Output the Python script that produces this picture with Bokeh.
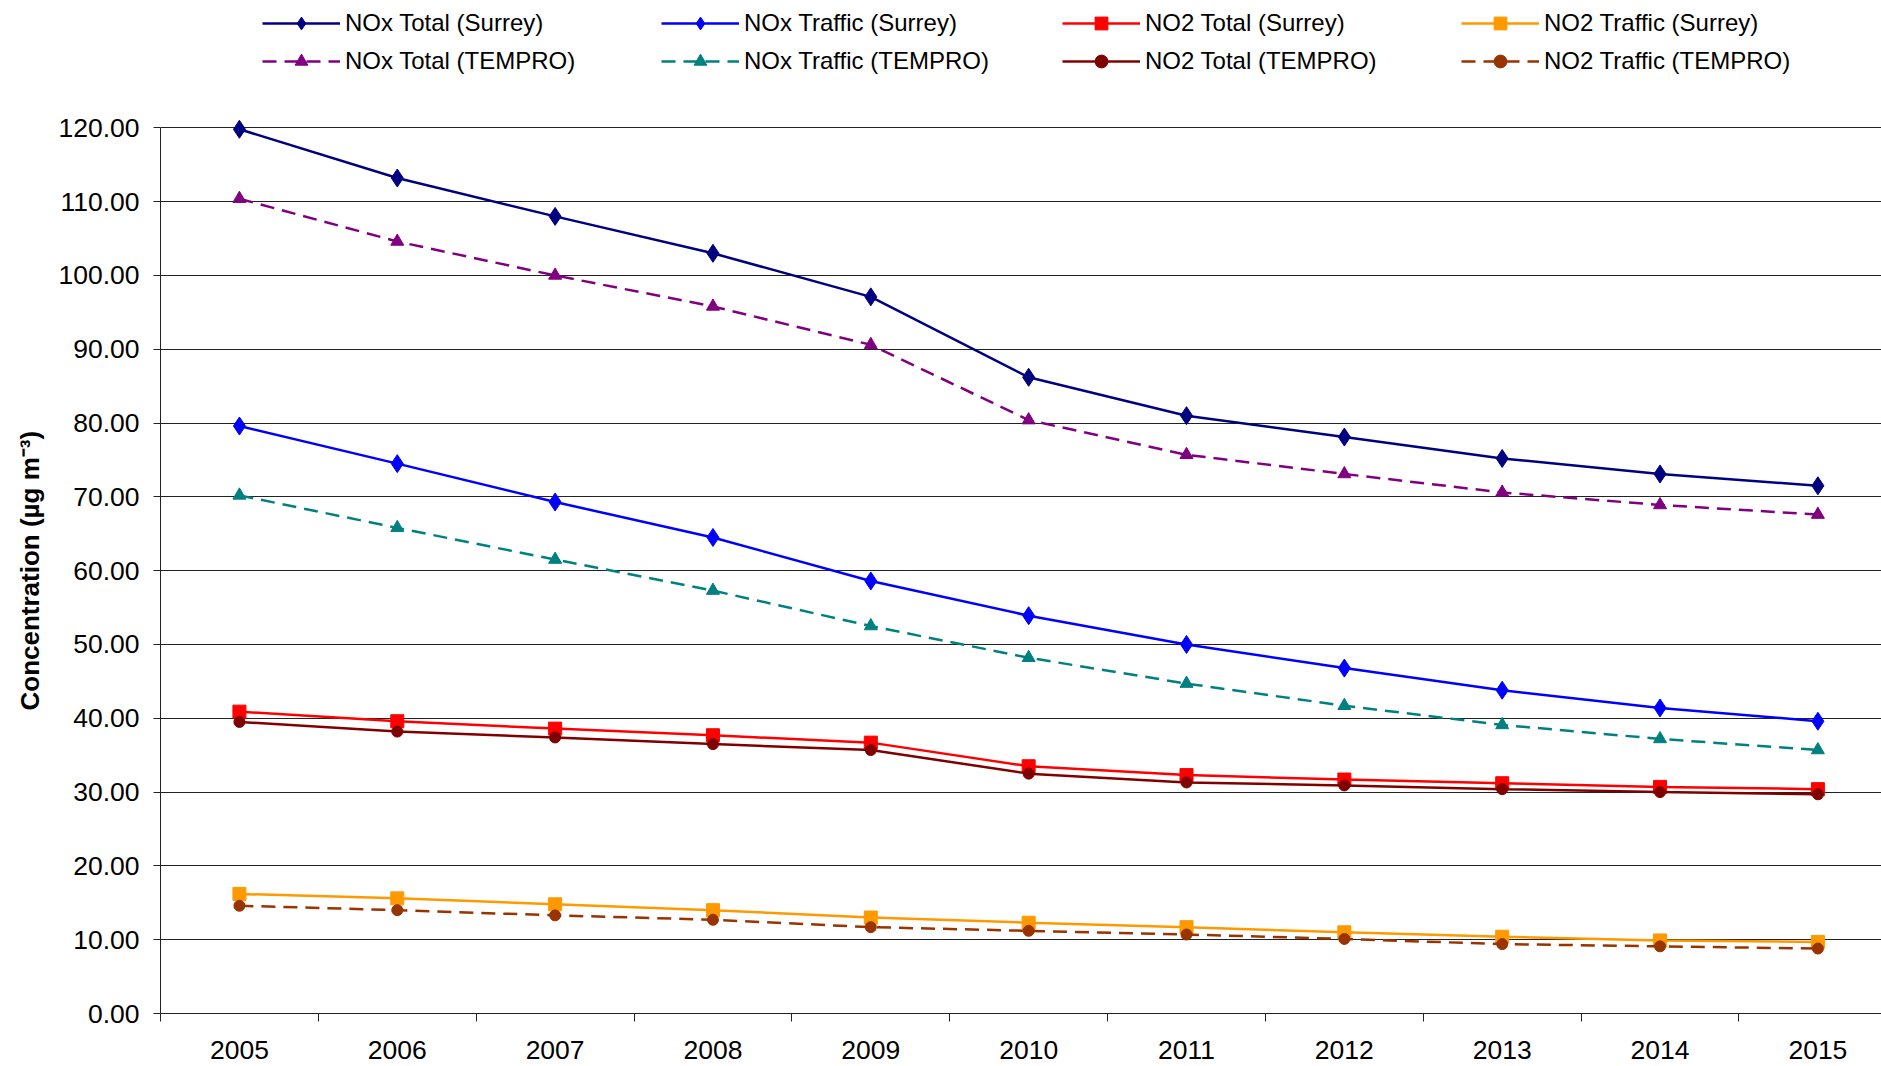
from bokeh.plotting import figure
from bokeh.models import Range1d, FixedTicker, Legend, LegendItem, Title
from bokeh.embed import file_html
from bokeh.resources import INLINE

years = [2005, 2006, 2007, 2008, 2009, 2010, 2011, 2012, 2013, 2014, 2015]
year_labels = [str(y) for y in years]

nox_total_surrey = [119.8, 113.2, 108.0, 103.0, 97.1, 86.2, 81.0, 78.1, 75.2, 73.1, 71.5]
nox_traffic_surrey = [79.6, 74.5, 69.3, 64.5, 58.6, 53.9, 50.0, 46.8, 43.8, 41.4, 39.6]
no2_total_surrey = [40.9, 39.6, 38.6, 37.7, 36.7, 33.5, 32.3, 31.7, 31.2, 30.7, 30.4]
no2_traffic_surrey = [16.2, 15.6, 14.8, 14.0, 13.0, 12.3, 11.7, 11.0, 10.4, 9.9, 9.7]
nox_total_tempro = [110.4, 104.6, 100.0, 95.8, 90.6, 80.4, 75.7, 73.1, 70.6, 68.9, 67.6]
nox_traffic_tempro = [70.2, 65.8, 61.5, 57.3, 52.5, 48.2, 44.7, 41.7, 39.1, 37.2, 35.7]
no2_total_tempro = [39.5, 38.2, 37.4, 36.5, 35.7, 32.5, 31.3, 30.9, 30.4, 30.0, 29.7]
no2_traffic_tempro = [14.6, 14.0, 13.3, 12.7, 11.7, 11.2, 10.7, 10.1, 9.4, 9.1, 8.8]

y_ticks = [0, 10, 20, 30, 40, 50, 60, 70, 80, 90, 100, 110, 120]
y_labels = ["0.00", "10.00", "20.00", "30.00", "40.00", "50.00", "60.00",
            "70.00", "80.00", "90.00", "100.00", "110.00", "120.00"]
y_title = "Concentration (µg m⁻³)"

series = [
    ("NOx Total (Surrey)", nox_total_surrey, "#000080", "solid", "diamond", 18),
    ("NOx Total (TEMPRO)", nox_total_tempro, "#800080", "14 8", "triangle", 13),
    ("NOx Traffic (Surrey)", nox_traffic_surrey, "#0000FF", "solid", "diamond", 18),
    ("NOx Traffic (TEMPRO)", nox_traffic_tempro, "#008080", "14 8", "triangle", 13),
    ("NO2 Total (Surrey)", no2_total_surrey, "#FF0000", "solid", "square", 13),
    ("NO2 Total (TEMPRO)", no2_total_tempro, "#800000", "solid", "circle", 11),
    ("NO2 Traffic (Surrey)", no2_traffic_surrey, "#FF9900", "solid", "square", 13),
    ("NO2 Traffic (TEMPRO)", no2_traffic_tempro, "#993300", "14 8", "circle", 11),
]

FONT = "Liberation Sans"

p = figure(width=1881, height=1066,
           x_range=Range1d(2004.5, 2015.403), y_range=Range1d(0, 137.25),
           output_backend="svg", toolbar_location=None,
           min_border_left=160, min_border_right=0, min_border_top=0,
           min_border_bottom=53)
p.outline_line_color = None
p.background_fill_color = "white"

p.xgrid.visible = False
p.ygrid.ticker = FixedTicker(ticks=y_ticks)
p.ygrid.grid_line_color = "#222222"
p.ygrid.grid_line_width = 1

# y axis
ya = p.yaxis[0]
ya.ticker = FixedTicker(ticks=y_ticks)
ya.major_label_overrides = {t: l for t, l in zip(y_ticks, y_labels)}
ya.bounds = (0, 120)
ya.major_tick_out = 7
ya.major_tick_in = 0
ya.minor_tick_out = 0
ya.minor_tick_in = 0
ya.axis_line_color = "#222222"
ya.major_tick_line_color = "#222222"
ya.major_label_text_font = FONT
ya.major_label_text_font_size = "26.5px"
ya.major_label_text_color = "black"
ya.major_label_standoff = 14

p.add_layout(Title(text=y_title, align="left", offset=303,
                   vertical_align="middle", text_font=FONT,
                   text_font_size="26px", text_font_style="bold",
                   text_color="black", standoff=20), "left")

# x axis
xa = p.xaxis[0]
xa.ticker = FixedTicker(ticks=years, minor_ticks=[y - 0.5 for y in years] + [2015.5])
xa.major_label_overrides = {y: l for y, l in zip(years, year_labels)}
xa.major_tick_out = 0
xa.major_tick_in = 0
xa.minor_tick_out = 8
xa.minor_tick_in = 0
xa.minor_tick_line_color = "#222222"
xa.axis_line_color = "#222222"
xa.major_label_text_font = FONT
xa.major_label_text_font_size = "26.5px"
xa.major_label_text_color = "black"
xa.major_label_standoff = 19

items = []
for name, vals, color, dash, marker, size in series:
    lr = p.line(years, vals, line_color=color, line_width=2.5, line_dash=dash)
    sr = p.scatter(years, vals, marker=marker, size=size, fill_color=color,
                   line_color=color)
    items.append(LegendItem(label=name, renderers=[lr, sr]))

legend_x = [102, 501, 902, 1301]
for i in range(4):
    lg = Legend(items=items[2 * i:2 * i + 2], location=(legend_x[i], 936),
                orientation="vertical", glyph_width=78, glyph_height=32,
                label_standoff=5, spacing=6, padding=0, margin=0,
                border_line_color=None, background_fill_alpha=0,
                label_text_font=FONT, label_text_font_size="24px",
                label_text_color="black")
    p.add_layout(lg, "center")

open("out.html", "w").write(file_html(p, INLINE))
